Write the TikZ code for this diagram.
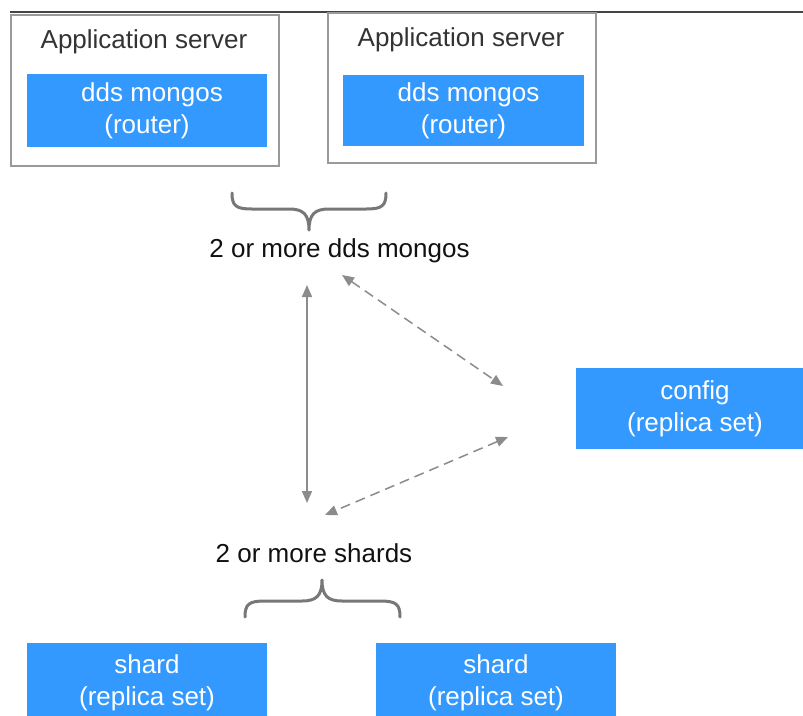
\documentclass[tikz,border=0pt]{standalone}
\usepackage{fontspec}
\setmainfont{Liberation Sans}
\usetikzlibrary{arrows.meta}
\definecolor{boxblue}{HTML}{3399FF}
\definecolor{bordergray}{HTML}{9A9A9A}
\definecolor{arrowgray}{HTML}{8C8C8C}
\definecolor{bracegray}{HTML}{777777}
\definecolor{titlegray}{HTML}{333333}
\definecolor{rulegray}{HTML}{444444}
\definecolor{captext}{HTML}{111111}
\tikzset{
  bigfont/.style={font=\fontsize{26}{32}\selectfont},
  bluebox/.style={fill=boxblue, text=white, inner sep=0pt, align=center, bigfont},
  serverbox/.style={draw=bordergray, line width=1.5pt, inner sep=0pt},
  servertitle/.style={text=titlegray, inner sep=0pt, anchor=base, bigfont},
  caption/.style={text=captext, inner sep=0pt, anchor=base, bigfont},
  conn/.style={draw=arrowgray, line width=1.5pt,
    {Triangle[length=12pt,width=10pt]}-{Triangle[length=12pt,width=10pt]}},
  dconn/.style={conn, dash pattern=on 10pt off 6pt},
  bracestyle/.style={draw=bracegray, line width=3pt, line cap=round, line join=round},
  toprule/.style={draw=rulegray, line width=1.2pt}
}
\begin{document}
\begin{tikzpicture}[x=1pt, y=-1pt]
\clip (0,0) rectangle (803,715);
\fill[white] (0,0) rectangle (803,715);

% top rule
\coordinate (ruleL) at (10,12);
\coordinate (ruleR) at (803,12);
\draw[toprule] (ruleL) -- (ruleR);

% application servers
\node[serverbox, minimum width=268pt, minimum height=151pt] (srvL) at (145,90.5) {};
\node[servertitle] (titleL) at (144,48) {Application server};
\node[bluebox, minimum width=240pt, minimum height=73pt] (mongosL) at (147,110.5) {\hspace*{10pt}dds mongos\\(router)};

\node[serverbox, minimum width=268pt, minimum height=150pt] (srvR) at (462,88) {};
\node[servertitle] (titleR) at (461,46) {Application server};
\node[bluebox, minimum width=241pt, minimum height=71pt] (mongosR) at (463.5,110.5) {\hspace*{10pt}dds mongos\\(router)};

% top brace
\draw[bracestyle] (232,193) .. controls (232,206) and (236,209) .. (252,209)
  -- (289,209) .. controls (303,209) and (309,214) .. (309,230)
  .. controls (309,214) and (315,209) .. (329,209)
  -- (366,209) .. controls (382,209) and (386,206) .. (386,193);
\node[caption] (capM) at (339.5,257) {2 or more dds mongos};

% config
\node[bluebox, minimum width=238pt, minimum height=81pt] (config) at (695,408.5) {config\\(replica set)};

% connectors
\coordinate (vTop) at (307,285);
\coordinate (vBot) at (307,503);
\coordinate (d1a) at (342,275);
\coordinate (d1b) at (503,386);
\coordinate (d2a) at (508,437);
\coordinate (d2b) at (325,515);
\draw[conn] (vTop) -- (vBot);
\draw[dconn] (d1a) -- (d1b);
\draw[dconn] (d2a) -- (d2b);

% shards caption and brace
\node[caption] (capS) at (314,562) {2 or more shards};
\draw[bracestyle] (245,617) .. controls (245,604) and (249,601) .. (265,601)
  -- (302,601) .. controls (316,601) and (322,596) .. (322,580)
  .. controls (322,596) and (328,601) .. (342,601)
  -- (380,601) .. controls (396,601) and (400,604) .. (400,617);

% shards
\node[bluebox, minimum width=240pt, minimum height=80pt] (shardL) at (147,683) {shard\\(replica set)};
\node[bluebox, minimum width=240pt, minimum height=80pt] (shardR) at (496,683) {shard\\(replica set)};
\end{tikzpicture}
\end{document}
